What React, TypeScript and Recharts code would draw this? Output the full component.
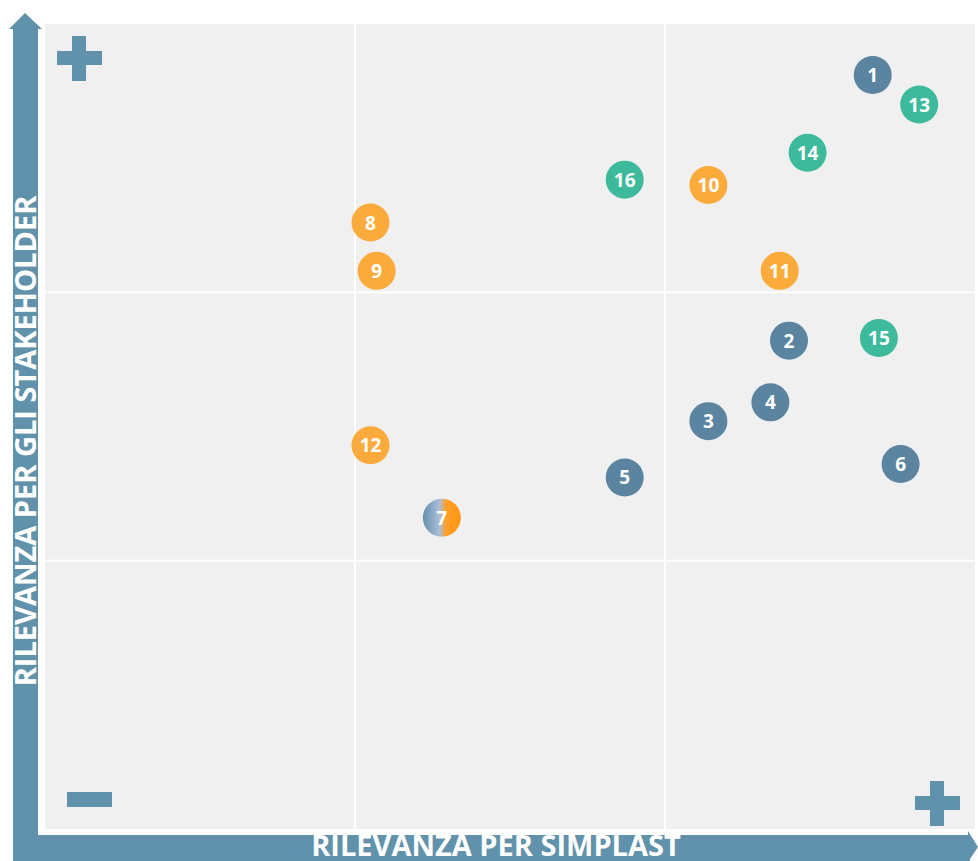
import React from 'react';
import { ScatterChart, Scatter, XAxis, YAxis, ReferenceLine, Customized } from 'recharts';

const ISSUE_IDS = [1, 2, 3, 4, 5, 6, 7, 8, 9, 10, 11, 12, 13, 14, 15, 16];
const SIMPLAST = [2.67, 2.4, 2.14, 2.34, 1.87, 2.76, 1.28, 1.05, 1.07, 2.14, 2.37, 1.05, 2.82, 2.46, 2.69, 1.87];
const STAKEHOLDER = [2.81, 1.82, 1.52, 1.59, 1.31, 1.36, 1.16, 2.26, 2.08, 2.4, 2.08, 1.43, 2.7, 2.52, 1.83, 2.42];
const GROUPS = ['blue', 'blue', 'blue', 'blue', 'blue', 'blue', 'mixed', 'orange', 'orange', 'orange', 'orange', 'orange', 'teal', 'teal', 'teal', 'teal'];

const GROUP_FILL: Record<string, string> = {
  blue: '#5b84a0',
  teal: '#3dba9b',
  orange: '#fbab3b',
  mixed: 'url(#mixedFill)',
};

const AXIS_COLOR = '#6192ab';
const FONT = '"Open Sans", "Noto Sans", sans-serif';
const MARGIN = { top: 24, right: 3, bottom: 32, left: 45 };

const points = ISSUE_IDS.map((id, i) => ({
  id,
  x: SIMPLAST[i],
  y: STAKEHOLDER[i],
  group: GROUPS[i],
}));

const Bubble: React.FC<any> = ({ cx, cy, payload }) => (
  <g>
    <circle cx={cx} cy={cy} r={19} fill={GROUP_FILL[payload.group]} />
    <text x={cx} y={cy + 7} textAnchor="middle" fill="#fff" fontSize={19} fontWeight={700} fontFamily={FONT}>
      {payload.id}
    </text>
  </g>
);

// plot background, arrows, signs and axis titles
const Frame = () => (
  <g>
    <defs>
      <linearGradient id="mixedFill" x1="0" y1="0" x2="1" y2="0">
        <stop offset="0%" stopColor="#6790ab" />
        <stop offset="45%" stopColor="#aac0db" />
        <stop offset="60%" stopColor="#ff9f2a" />
        <stop offset="100%" stopColor="#ff9412" />
      </linearGradient>
    </defs>
    <rect x={MARGIN.left} y={MARGIN.top} width={978 - MARGIN.left - MARGIN.right} height={861 - MARGIN.top - MARGIN.bottom} fill="#f0f0f0" />
    <rect x={13} y={29} width={25} height={832} fill={AXIS_COLOR} />
    <polygon points="9,29 25,13 42,29" fill={AXIS_COLOR} />
    <rect x={13} y={835} width={957} height={26} fill={AXIS_COLOR} />
    <polygon points="968,831 978,847 968,862" fill={AXIS_COLOR} />
    <rect x={57} y={51} width={45} height={14} fill={AXIS_COLOR} />
    <rect x={72} y={36} width={14} height={45} fill={AXIS_COLOR} />
    <rect x={67} y={792} width={45} height={15} fill={AXIS_COLOR} />
    <rect x={915} y={796} width={45} height={14} fill={AXIS_COLOR} />
    <rect x={930} y={781} width={14} height={45} fill={AXIS_COLOR} />
    <text x={496} y={856} textAnchor="middle" fill="#fff" fontSize={29} fontWeight={700} fontFamily={FONT}>
      RILEVANZA PER SIMPLAST
    </text>
    <text x={36} y={441} transform="rotate(-90 36 441)" textAnchor="middle" fill="#fff" fontSize={29} fontWeight={700} fontFamily={FONT}>
      RILEVANZA PER GLI STAKEHOLDER
    </text>
  </g>
);

const groupNames = ['blue', 'teal', 'orange', 'mixed'];

export default function App() {
  return (
    <div style={{ position: 'absolute', left: 0, top: 0, width: 978, height: 861, background: '#fff' }}>
      <ScatterChart width={978} height={861} margin={MARGIN}>
        <XAxis type="number" dataKey="x" domain={[0, 3]} hide />
        <YAxis type="number" dataKey="y" domain={[0, 3]} hide />
        <Customized component={Frame} />
        <ReferenceLine x={1} stroke="#fff" strokeWidth={2} />
        <ReferenceLine x={2} stroke="#fff" strokeWidth={2} />
        <ReferenceLine y={1} stroke="#fff" strokeWidth={2} />
        <ReferenceLine y={2} stroke="#fff" strokeWidth={2} />
        {groupNames.map((g) => (
          <Scatter
            key={g}
            data={points.filter((p) => p.group === g)}
            shape={<Bubble />}
            isAnimationActive={false}
          />
        ))}
      </ScatterChart>
    </div>
  );
}
